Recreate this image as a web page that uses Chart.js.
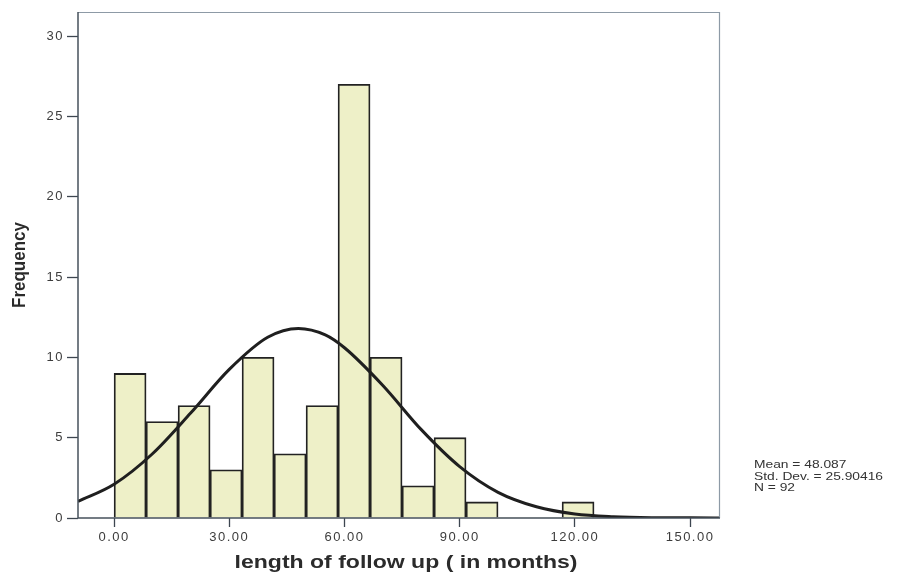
<!DOCTYPE html>
<html>
<head>
<meta charset="utf-8">
<script src="https://cdn.jsdelivr.net/npm/chart.js@4/dist/chart.umd.min.js"></script>
<style>
  html, body { margin: 0; padding: 0; background: #ffffff; }
  canvas { display: block; }
</style>
</head>
<body>
<canvas id="histogram" width="913" height="573"></canvas>
<script>
// Histogram bins (lower edge, months) and counts
const binStart = [0, 8.33, 16.67, 25, 33.33, 41.67, 50, 58.33, 66.67, 75, 83.33, 91.67, 100, 108.33, 116.67];
const binWidth = 8.33;
const frequency = [9, 6, 7, 3, 10, 4, 7, 27, 10, 2, 5, 1, 0, 0, 1];

// Normal curve
const curveX = [-9.4, 0, 10, 20, 30, 40, 48, 55, 60, 70, 80, 90, 100, 110, 120, 130, 140, 150, 157.8];
const curveY = [1.03, 2.1, 4.0, 6.55, 9.25, 11.25, 11.8, 11.4, 10.6, 8.25, 5.5, 3.2, 1.6, 0.7, 0.25, 0.08, 0.02, 0.01, 0];

// Axis ticks
const xTicks = [0, 30, 60, 90, 120, 150];
const yTicks = [0, 5, 10, 15, 20, 25, 30];

const statsLines = ['Mean = 48.087', 'Std. Dev. = 25.90416', 'N = 92'];
const xTitle = 'length of follow up ( in months)';
const yTitle = 'Frequency';

const FONT = "'Liberation Sans', Arial, sans-serif";

const barData = binStart.map((s, i) => ({ x: s + binWidth / 2, y: frequency[i] }));
const curveData = curveX.map((x, i) => ({ x: x, y: curveY[i] }));

// Text spacing + frame + titles drawn on top of the chart
const spssDecor = {
    id: 'spssDecor',
    beforeDraw(chart) {
        chart.ctx.letterSpacing = '1.5px';
    },
    afterDatasetsDraw(chart) {
        const { ctx, chartArea: a } = chart;
        ctx.save();
        // light top / right edges
        ctx.strokeStyle = '#8d9aa6';
        ctx.lineWidth = 1.2;
        ctx.beginPath();
        ctx.moveTo(a.left, a.top + 0.5);
        ctx.lineTo(a.right - 0.5, a.top + 0.5);
        ctx.lineTo(a.right - 0.5, a.bottom);
        ctx.stroke();
        // dark left / bottom edges
        ctx.strokeStyle = '#47525c';
        ctx.lineWidth = 1.5;
        ctx.beginPath();
        ctx.moveTo(a.left, a.top);
        ctx.lineTo(a.left, a.bottom);
        ctx.lineTo(a.right, a.bottom);
        ctx.stroke();
        ctx.restore();
    },
    afterDraw(chart) {
        const ctx = chart.ctx;
        ctx.save();
        ctx.letterSpacing = '0px';
        ctx.fillStyle = '#2b2b2b';

        // x axis title (scan is stretched sideways)
        ctx.save();
        ctx.translate(406, 568);
        ctx.scale(1.28, 1);
        ctx.font = 'bold 18px ' + FONT;
        ctx.textAlign = 'center';
        ctx.textBaseline = 'alphabetic';
        ctx.fillText(xTitle, 0, 0);
        ctx.restore();

        // y axis title
        ctx.save();
        ctx.translate(25, 265);
        ctx.rotate(-Math.PI / 2);
        ctx.scale(1, 1.12);
        ctx.font = 'bold 17px ' + FONT;
        ctx.textAlign = 'center';
        ctx.textBaseline = 'alphabetic';
        ctx.fillText(yTitle, 0, 0);
        ctx.restore();

        // stats box
        ctx.fillStyle = '#333333';
        ctx.font = '11.5px ' + FONT;
        ctx.textAlign = 'left';
        ctx.textBaseline = 'middle';
        statsLines.forEach((line, i) => {
            ctx.save();
            ctx.translate(754, 465 + i * 11.5);
            ctx.scale(1.2, 1);
            ctx.fillText(line, 0, 0);
            ctx.restore();
        });
        ctx.restore();
    }
};

new Chart(document.getElementById('histogram'), {
    type: 'bar',
    data: {
        datasets: [
            {
                type: 'line',
                data: curveData,
                borderColor: '#1f1f1f',
                borderWidth: 3,
                pointRadius: 0,
                cubicInterpolationMode: 'monotone',
                fill: false
            },
            {
                type: 'bar',
                data: barData,
                backgroundColor: '#eef0c8',
                borderColor: '#222222',
                borderWidth: (c) => (c.raw && c.raw.y > 0 ? 1.8 : 0),
                borderSkipped: 'start',
                barPercentage: 1,
                categoryPercentage: 1,
                grouped: false
            }
        ]
    },
    options: {
        responsive: false,
        animation: false,
        layout: { padding: { left: 0, right: 193, top: 12, bottom: 0 } },
        plugins: {
            legend: { display: false },
            tooltip: { enabled: false }
        },
        scales: {
            x: {
                type: 'linear',
                min: -9.4,
                max: 157.8,
                offset: false,
                afterBuildTicks: (s) => { s.ticks = xTicks.map(v => ({ value: v })); },
                afterFit: (s) => { s.height = 55; },
                border: { display: false },
                grid: {
                    offset: false,
                    drawOnChartArea: false,
                    drawTicks: true,
                    tickLength: 9,
                    tickColor: '#3d4650',
                    tickWidth: 1.3
                },
                ticks: {
                    autoSkip: false,
                    maxRotation: 0,
                    padding: 3,
                    color: '#3c3c3c',
                    font: { family: FONT, size: 13 },
                    callback: (v) => Number(v).toFixed(2)
                }
            },
            y: {
                min: 0,
                max: 31.5,
                afterBuildTicks: (s) => { s.ticks = yTicks.map(v => ({ value: v })); },
                afterFit: (s) => { s.width = 78; },
                border: { display: false },
                grid: {
                    drawOnChartArea: false,
                    drawTicks: true,
                    tickLength: 11,
                    tickColor: '#3d4650',
                    tickWidth: 1.3
                },
                ticks: {
                    padding: 3,
                    color: '#3c3c3c',
                    font: { family: FONT, size: 13 }
                }
            }
        }
    },
    plugins: [spssDecor]
});
</script>
</body>
</html>
